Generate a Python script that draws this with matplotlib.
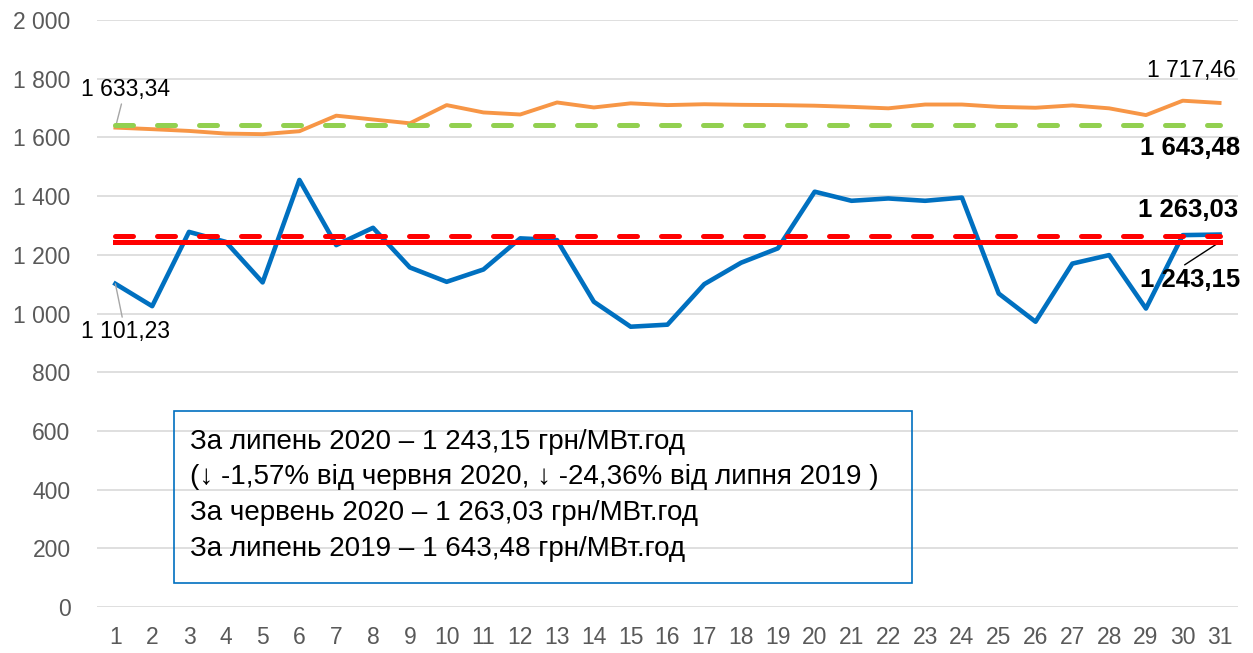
import matplotlib.pyplot as plt
from matplotlib.patches import Rectangle

plt.rcParams['font.family'] = ['Liberation Sans', 'DejaVu Sans']

days = list(range(1, 32))
price_jul_2020 = [1101.23, 1025, 1278, 1244, 1106, 1455, 1233, 1292, 1157, 1108,
                  1150, 1256, 1250, 1040, 955, 962, 1100, 1173, 1222, 1415,
                  1384, 1392, 1384, 1395, 1068, 972, 1170, 1199, 1017, 1267, 1269]
price_jul_2019 = [1633.34, 1628, 1622, 1613, 1611, 1621, 1674, 1661, 1648, 1710,
                  1685, 1678, 1719, 1702, 1716, 1710, 1713, 1711, 1710, 1708,
                  1704, 1699, 1712, 1712, 1704, 1701, 1709, 1699, 1676, 1725, 1717.46]
avg_jul_2019 = 1643.48
avg_jun_2020 = 1263.03
avg_jul_2020 = 1243.15

box_lines = [
    "За липень 2020 – 1 243,15 грн/МВт.год",
    "(↓ -1,57% від червня 2020, ↓ -24,36% від липня 2019 )",
    "За червень 2020 – 1 263,03 грн/МВт.год",
    "За липень 2019 – 1 643,48 грн/МВт.год",
]

def fmt(v):
    s = f"{v:,.2f}".replace(",", " ").replace(".", ",")
    return s

fig = plt.figure(figsize=(12.53, 6.53), dpi=100)
ax = fig.add_axes([0.0774, 0.0704, 0.9106, 0.899])

ax.plot(days, price_jul_2020, color='#0070C0', lw=3.3, solid_joinstyle='round', zorder=3)
ax.plot(days, price_jul_2019, color='#F79646', lw=2.8, solid_joinstyle='round', zorder=3)

ax.plot([days[0], days[-1]], [avg_jul_2019] * 2, color='#92D050', lw=3.6,
        linestyle=(0, (3.6, 4.8)), dash_capstyle='round', zorder=4)
ax.plot([days[0], days[-1]], [avg_jun_2020] * 2, color='#FF0000', lw=3.6,
        linestyle=(0, (3.6, 4.8)), dash_capstyle='round', zorder=4)
ax.plot([days[0], days[-1]], [avg_jul_2020] * 2, color='#FF0000', lw=3.6, zorder=4)

ax.set_xlim(0.5, 31.5)
ax.set_ylim(0, 2000)
ax.set_yticks(range(0, 2001, 200))
ax.set_yticklabels([f"{v:,}".replace(",", " ") for v in range(0, 2001, 200)])
ax.set_xticks(days)
ax.set_xticklabels([str(d) for d in days])
ax.tick_params(axis='both', length=0, labelsize=16.5, labelcolor='#595959')
ax.tick_params(axis='y', pad=19)
ax.tick_params(axis='x', pad=14)
ax.grid(axis='y', color='#D9D9D9', lw=1.2)
ax.set_axisbelow(True)
for s in ax.spines.values():
    s.set_visible(False)

# data labels
ax.annotate(fmt(price_jul_2019[0]), xy=(1, price_jul_2019[0]), xytext=(7, 19),
            textcoords='offset points', ha='center', va='bottom', fontsize=16.5,
            arrowprops=dict(arrowstyle='-', color='#A6A6A6', lw=1, shrinkA=0, shrinkB=0))
ax.annotate(fmt(price_jul_2020[0]), xy=(1, price_jul_2020[0]), xytext=(7, -26),
            textcoords='offset points', ha='center', va='top', fontsize=16.5,
            arrowprops=dict(arrowstyle='-', color='#A6A6A6', lw=1, shrinkA=0, shrinkB=0))
ax.annotate(fmt(price_jul_2019[-1]), xy=(31, price_jul_2019[-1]), xytext=(-20, 15),
            textcoords='offset points', ha='center', va='bottom', fontsize=16.5)
ax.annotate(fmt(avg_jul_2019), xy=(31, avg_jul_2019), xytext=(-21, -17),
            textcoords='offset points', ha='center', va='center', fontsize=18.5,
            fontweight='bold')
ax.annotate(fmt(avg_jun_2020), xy=(31, avg_jun_2020), xytext=(-23, 19),
            textcoords='offset points', ha='center', va='center', fontsize=18.5,
            fontweight='bold')
ax.annotate(fmt(avg_jul_2020), xy=(31, avg_jul_2020), xytext=(-21, -27),
            textcoords='offset points', ha='center', va='center', fontsize=18.5,
            fontweight='bold',
            arrowprops=dict(arrowstyle='-', color='black', lw=1, shrinkA=0, shrinkB=0,
                            relpos=(0.4, 1.0)))

# text box
fig.patches.append(Rectangle((174 / 1253, 1 - 583 / 653), (912 - 174) / 1253, (583 - 411) / 653,
                             transform=fig.transFigure, fill=False, edgecolor='#0070C0',
                             lw=1.2, zorder=5))
for i, line in enumerate(box_lines):
    fig.text(190 / 1253, 1 - (442 + i * 35.5) / 653, line, fontsize=20, va='center',
             ha='left', color='black')

fig.savefig('out.png', dpi=100)
